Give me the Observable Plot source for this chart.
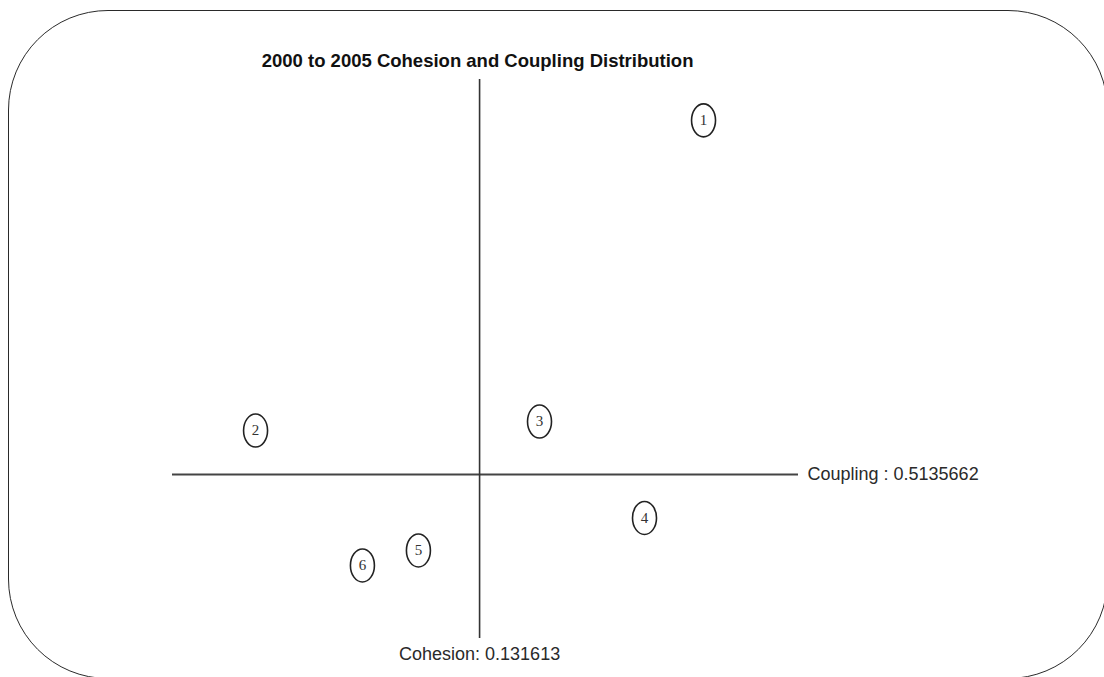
<!DOCTYPE html>
<html>
<head>
<meta charset="utf-8">
<script src="https://cdn.jsdelivr.net/npm/d3@7"></script>
<script src="https://cdn.jsdelivr.net/npm/@observablehq/plot@0.6"></script>
<style>
  html, body { margin: 0; padding: 0; background: #fff; overflow: hidden; width: 1104px; height: 677px; }
  #chart { position: absolute; left: 0; top: 0; }
  #border {
    position: absolute; left: 7.5px; top: 9.5px; width: 1100px; height: 669px;
    box-sizing: border-box; border: 1.8px solid #2a2a2a; border-radius: 100px;
    pointer-events: none;
  }
</style>
</head>
<body>
<div id="chart"></div>
<div id="border"></div>
<script>
// ---- data ----
const title = "2000 to 2005 Cohesion and Coupling Distribution";
const clusterLabels = ["1", "2", "3", "4", "5", "6"];
const cohesion = [0.2276, 0.0356, 0.1573, 0.2023, 0.1054, 0.0814];
const coupling = [0.9497, 0.5677, 0.5788, 0.4600, 0.4200, 0.4015];
const cohesionThreshold = 0.131613;
const couplingThreshold = 0.5135662;
const cohesionExtent = [0, 0.2683];   // extent of the horizontal (coupling) line
const couplingExtent = [0.3116, 1.0]; // extent of the vertical (cohesion) line

const points = clusterLabels.map((label, i) => ({label, cohesion: cohesion[i], coupling: coupling[i]}));

// ellipse symbol
const ellipse = {
  draw(ctx) {
    const a = 12, b = 16.5, k = 0.5523;
    ctx.moveTo(a, 0);
    ctx.bezierCurveTo(a, k * b, k * a, b, 0, b);
    ctx.bezierCurveTo(-k * a, b, -a, k * b, -a, 0);
    ctx.bezierCurveTo(-a, -k * b, -k * a, -b, 0, -b);
    ctx.bezierCurveTo(k * a, -b, a, -k * b, a, 0);
    ctx.closePath();
  }
};

const sans = "'Liberation Sans', Arial, Helvetica, sans-serif";
const serif = "'Liberation Serif', 'Times New Roman', serif";

const chart = Plot.plot({
  width: 1104,
  height: 677,
  margin: 0,
  style: {background: "transparent", fontFamily: sans},
  x: {domain: [0, 0.2683], range: [172, 798], axis: null},
  y: {domain: [0, 1], range: [891, 79], axis: null},
  marks: [
    Plot.ruleY([couplingThreshold], {x1: cohesionExtent[0], x2: cohesionExtent[1], stroke: "#444", strokeWidth: 2}),
    Plot.ruleX([cohesionThreshold], {y1: couplingExtent[0], y2: couplingExtent[1], stroke: "#333", strokeWidth: 1.6}),
    Plot.text([`Coupling : ${couplingThreshold}`], {x: cohesionExtent[1], y: couplingThreshold, textAnchor: "start", dx: 9, fontSize: 18, fill: "#2a2a2a", fontFamily: sans}),
    Plot.text([`Cohesion: ${cohesionThreshold}`], {x: cohesionThreshold, y: couplingExtent[0], dy: 16, textAnchor: "middle", fontSize: 18, fill: "#2a2a2a", fontFamily: sans}),
    Plot.text([title], {x: cohesionThreshold, frameAnchor: "top", lineAnchor: "middle", dx: -2, dy: 61, fontSize: 18.5, fontWeight: "bold", fill: "#111", fontFamily: sans}),
    Plot.dot(points, {x: "cohesion", y: "coupling", symbol: ellipse, fill: "none", stroke: "#222", strokeWidth: 1.6}),
    Plot.text(points, {x: "cohesion", y: "coupling", text: "label", fontSize: 15, fill: "#333", fontFamily: serif})
  ]
});
document.getElementById("chart").append(chart);
</script>
</body>
</html>
